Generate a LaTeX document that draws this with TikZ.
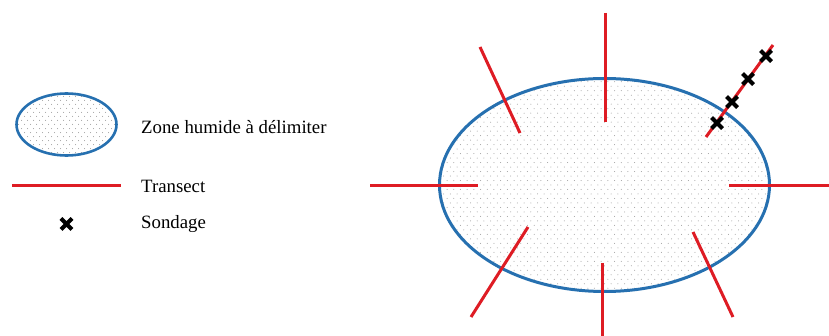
\documentclass[tikz,border=0pt]{standalone}
\usepackage{fontspec}
\setmainfont{Liberation Serif}
\usetikzlibrary{shapes.geometric}
\definecolor{zoneblue}{RGB}{38,112,176}
\definecolor{transred}{RGB}{222,28,36}
\definecolor{dotc}{RGB}{155,155,155}
\tikzset{
  zone/.style n args={3}{ellipse, draw=zoneblue, fill=white, inner sep=0pt,
    path picture={
      \foreach \i in {-#2,...,#2}
        \foreach \j in {-#3,...,#3}
          \fill[dotc] ([shift={({\i*#1+0.5*#1*isodd(\j)},{\j*0.67*#1})}]path picture bounding box.center) circle (0.5);
    }},
  transect/.style={draw=transred, line width=3pt},
  label/.style={anchor=west, inner sep=0pt, font=\fontsize{18.8}{20}\selectfont},
  sondage/.pic={\draw[black, line width=4pt] (-5.5,-5.5) -- (5.5,5.5) (-5.5,5.5) -- (5.5,-5.5);}
}
\begin{document}
\begin{tikzpicture}[x=1pt,y=-1pt]
\useasboundingbox (0,0) rectangle (829,336);
% legend
\node[zone={6}{9}{8}, line width=2.6pt, minimum width=100, minimum height=62] (lz) at (66.5,124.5) {};
\node[label] (tz) at (141,127) {Zone humide à délimiter};
\coordinate (la) at (12,186);
\coordinate (lb) at (121,186);
\draw[transect] (la) -- (lb);
\node[label] (tt) at (141,186) {Transect};
\pic at (66.5,224) {sondage};
\node[label] (ts) at (141,224) {Sondage};
% main zone
\node[zone={6.7}{25}{24}, line width=3pt, minimum width=330, minimum height=213] (z) at (604.5,185) {};
% transects
\coordinate (w1) at (370,186); \coordinate (w2) at (478,186);
\coordinate (e1) at (729,186); \coordinate (e2) at (829,186);
\coordinate (n1) at (605,13);  \coordinate (n2) at (605,122);
\coordinate (nw1) at (480,47); \coordinate (nw2) at (520,133);
\coordinate (ne1) at (706,137); \coordinate (ne2) at (773,45);
\coordinate (sw1) at (528,227); \coordinate (sw2) at (471,317);
\coordinate (s1) at (602,263); \coordinate (s2) at (602,336);
\coordinate (se1) at (693,232); \coordinate (se2) at (733,317);
\draw[transect] (w1) -- (w2);
\draw[transect] (e1) -- (e2);
\draw[transect] (n1) -- (n2);
\draw[transect] (nw1) -- (nw2);
\draw[transect] (ne1) -- (ne2);
\draw[transect] (sw1) -- (sw2);
\draw[transect] (s1) -- (s2);
\draw[transect] (se1) -- (se2);
% sondages
\pic at (717,123) {sondage};
\pic at (732,102) {sondage};
\pic at (748,79) {sondage};
\pic at (766,56) {sondage};
\end{tikzpicture}
\end{document}
